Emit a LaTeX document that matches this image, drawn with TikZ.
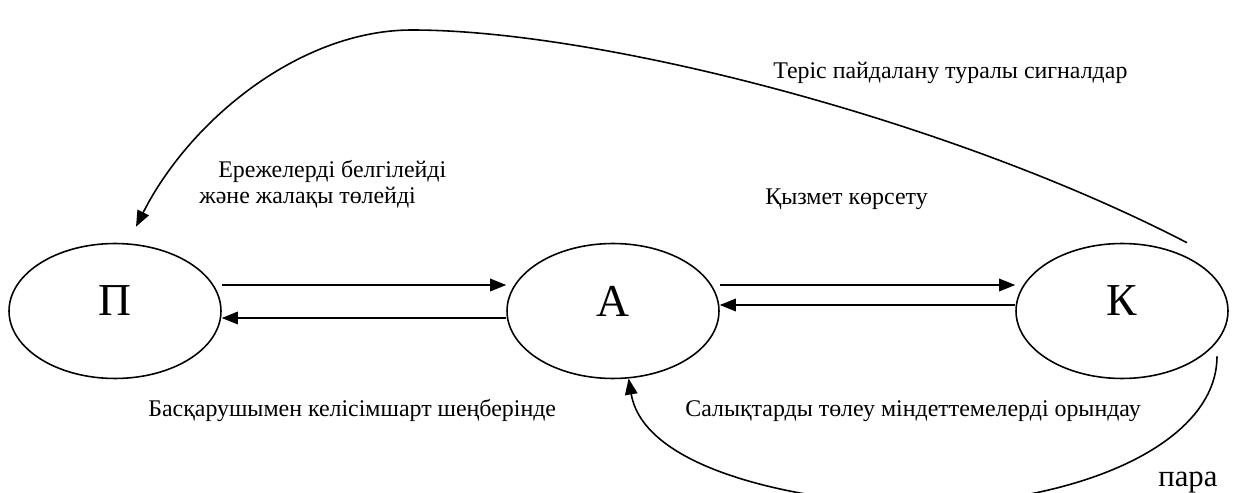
\documentclass[tikz,border=0pt]{standalone}
\usepackage{fontspec}
\setmainfont{Liberation Serif}
\usetikzlibrary{shapes.geometric, arrows.meta, calc}
\tikzset{
    party/.style={ellipse, draw, line width=0.9pt, minimum width=4.24cm, minimum height=2.7cm, inner sep=0pt, text depth=0.4cm, font=\fontsize{26}{30}\selectfont},
    flow/.style={-{Triangle[length=0.32cm, width=0.25cm]}, line width=0.9pt},
    note/.style={anchor=base west, inner sep=0pt, font=\fontsize{13.6}{15}\selectfont},
}

\begin{document}
\begin{tikzpicture}[x=0.02cm, y=-0.02cm]
    \useasboundingbox (0,0) rectangle (1238,493);
    \clip (0,0) rectangle (1238,493);

    \node[party] (P) at (115,311) {П};
    \node[party] (A) at (613,311) {А};
    \node[party] (K) at (1122,311) {К};

    \draw ([yshift=0.52cm]P.east) edge[flow] ([yshift=0.52cm]A.west);
    \draw ([yshift=-0.14cm]A.west) edge[flow] ([yshift=-0.14cm]P.east);
    \draw ([yshift=0.52cm]A.east) edge[flow] ([yshift=0.52cm]K.west);
    \draw ([yshift=0.12cm]K.west) edge[flow] ([yshift=0.12cm]A.east);

    % feedback curves
    \coordinate (kt) at ($(K.north)+(65,0)$);
    \coordinate (pt) at ($(P.north)+(21,-16)$);
    \coordinate (kb) at ($(K.south)+(95,-23)$);
    \draw[flow] (kt) .. controls (950,120) and (600,30) .. (412,30)
                     .. controls (300,30) and (190,120) .. (pt);
    \draw[flow] (kb) .. controls (1217,440) and (1090,500) .. (930,505)
                     .. controls (820,505) and (645,475) .. (A.-77);

    \node[note] (rules) at (218,178) {Ережелерді белгілейді};
    \node[note] (wage) at (199,204) {және жалақы төлейді};
    \node[note] (service) at (765,205) {Қызмет көрсету};
    \node[note] (signal) at (773,79) {Теріс пайдалану туралы сигналдар};
    \node[note] (contract) at (148,417) {Басқарушымен келісімшарт шеңберінде};
    \node[note] (taxes) at (685,417) {Салықтарды төлеу міндеттемелерді орындау};
    \node[note, font=\fontsize{17.5}{20}\selectfont] (bribe) at (1158,486) {пара};
\end{tikzpicture}
\end{document}
